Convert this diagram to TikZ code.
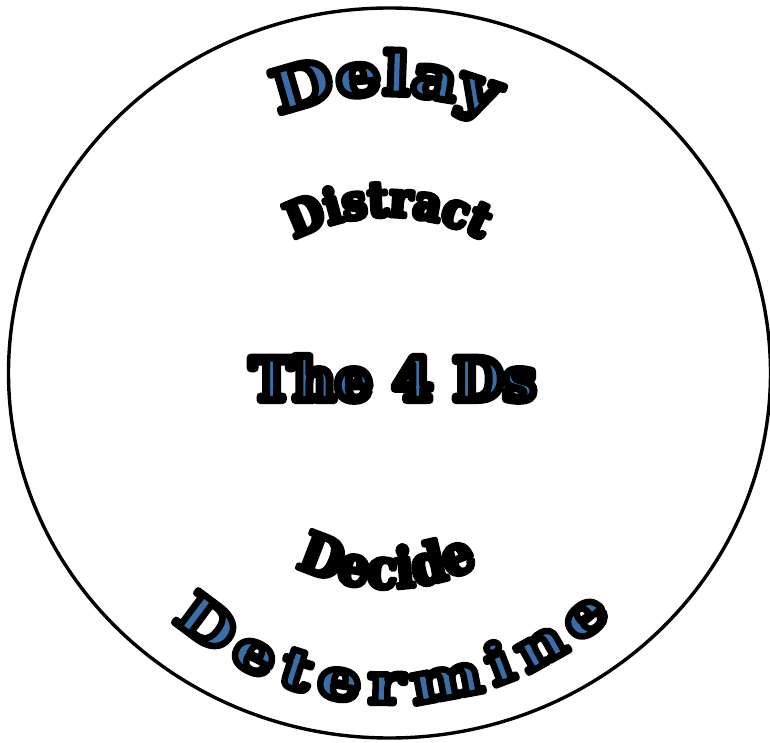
\documentclass[tikz,border=0pt]{standalone}
\usepackage{fontspec}
\usetikzlibrary{decorations.text}
\newfontfamily\waA[FakeStretch=1.22]{DejaVu Serif}
\newfontfamily\waB[FakeStretch=1.25]{DejaVu Serif}
\newfontfamily\waC{DejaVu Serif}
\newfontfamily\waD[FakeStretch=0.9]{DejaVu Serif}
\definecolor{wblue}{RGB}{58,110,168}
\newcommand\waon[1]{\special{pdf:literal direct 2 Tr #1 w 1 j 0 0 0 RG}}
\tikzset{
  ring/.style={line width=3.4pt},
  curvetext/.style={decorate, decoration={text along path, text align=center, text={#1}}},
  fittext/.style={decorate, decoration={text along path, text align={fit to path}, text={#1}}}
}
\begin{document}
\begin{tikzpicture}[x=1pt,y=1pt]
\useasboundingbox (0,0) rectangle (770,742);
\draw[ring] (389.5,369) ellipse [x radius=381, y radius=365];
% Delay (top arc)
\coordinate (cDelay) at (386,366);
\path[curvetext={|\waA\bfseries\fontsize{58}{58}\selectfont\color{wblue}\waon{7}|Delay}]
  (cDelay) ++(130:282) arc[start angle=130,end angle=50,radius=282];
% Distract
\coordinate (cDistract) at (388,326);
\path[curvetext={|\waD\bfseries\fontsize{48}{48}\selectfont\color{black}\waon{5}|Distract}]
  (cDistract) ++(125:200) arc[start angle=125,end angle=55,radius=200];
% The 4 Ds
\node[anchor=base, inner sep=0pt, font=\waC\bfseries\fontsize{58}{58}\selectfont] (title) at (393,342)
  {\color{wblue}\waon{8}The 4 Ds};
% Decide (smile)
\coordinate (cDecide) at (387,354);
\path[curvetext={|\waD\bfseries\fontsize{55}{55}\selectfont\color{black}\waon{5}|Decide}]
  (cDecide) ++(240:200) arc[start angle=240,end angle=300,radius=200];
% Determine (bottom smile)
\coordinate (cDetermine) at (390,364);
\path[fittext={|\waB\bfseries\fontsize{55}{55}\selectfont\color{wblue}\waon{6.5}|Determine}]
  (cDetermine) ++(228:325) arc[start angle=228,end angle=313,radius=325];
\end{tikzpicture}
\end{document}
